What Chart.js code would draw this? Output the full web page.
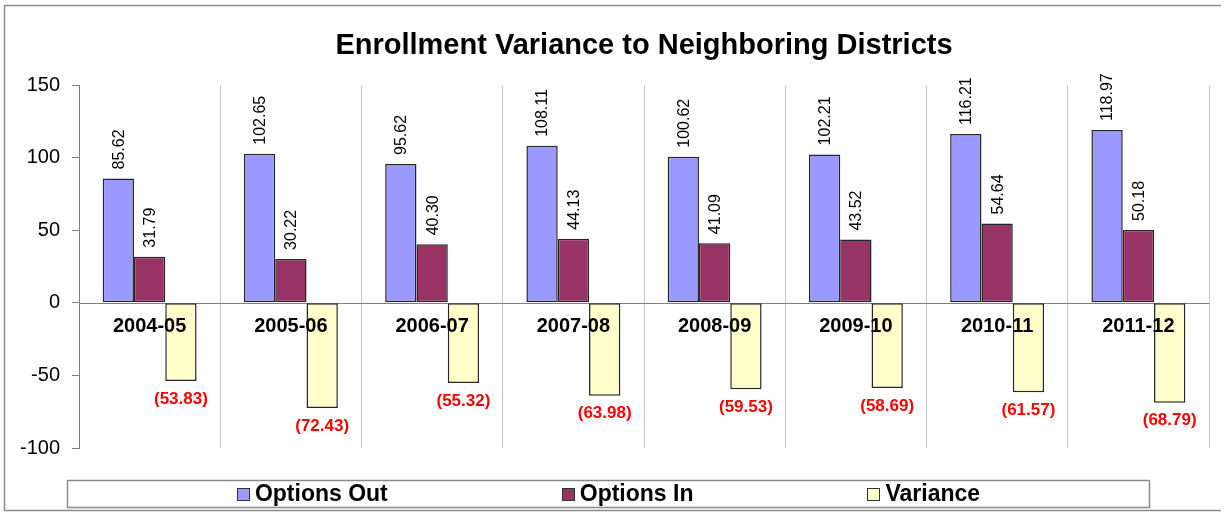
<!DOCTYPE html>
<html>
<head>
<meta charset="utf-8">
<script src="https://cdn.jsdelivr.net/npm/chart.js@4.4.0/dist/chart.umd.min.js"></script>
<style>
html,body{margin:0;padding:0;background:#fff;}
#wrap{width:1225px;height:514px;position:relative;}
canvas{display:block;}
</style>
</head>
<body>
<div id="wrap"><canvas id="c" width="1225" height="514"></canvas></div>
<script>
const categories = ['2004-05','2005-06','2006-07','2007-08','2008-09','2009-10','2010-11','2011-12'];
const optionsOut = [85.62, 102.65, 95.62, 108.11, 100.62, 102.21, 116.21, 118.97];
const optionsIn  = [31.79, 30.22, 40.30, 44.13, 41.09, 43.52, 54.64, 50.18];
const variance   = [-53.83, -72.43, -55.32, -63.98, -59.53, -58.69, -61.57, -68.79];
const yTickValues = [150, 100, 50, 0, -50, -100];
const titleText = 'Enrollment Variance to Neighboring Districts';

const FONT = "'Liberation Sans', Arial, Helvetica, sans-serif";
Chart.defaults.font.family = FONT;

const fmt = v => v < 0 ? '(' + Math.abs(v).toFixed(2) + ')' : v.toFixed(2);

const framePlugin = {
  id: 'frame',
  beforeDraw(chart) {
    const ctx = chart.ctx;
    ctx.save();
    ctx.fillStyle = '#fff';
    ctx.fillRect(0, 0, chart.width, chart.height);
    ctx.restore();
  },
  afterDraw(chart) {
    const ctx = chart.ctx;
    ctx.save();
    ctx.strokeStyle = '#8a8a8a';
    ctx.lineWidth = 1.5;
    ctx.beginPath();
    ctx.moveTo(1221, 5.5);
    ctx.lineTo(4.5, 5.5);
    ctx.lineTo(4.5, 510.5);
    ctx.lineTo(1221, 510.5);
    ctx.stroke();
    ctx.restore();
  }
};

const zeroLinePlugin = {
  id: 'zeroLine',
  beforeDatasetsDraw(chart) {
    const {ctx, chartArea, scales} = chart;
    const y0 = Math.round(scales.y.getPixelForValue(0)) + 0.5;
    ctx.save();
    ctx.strokeStyle = '#808080';
    ctx.lineWidth = 1;
    ctx.beginPath();
    ctx.moveTo(chartArea.left, y0);
    ctx.lineTo(chartArea.right, y0);
    ctx.stroke();
    ctx.restore();
  }
};

const labelPlugin = {
  id: 'valueLabels',
  afterDatasetsDraw(chart) {
    const {ctx, scales} = chart;
    const y0 = scales.y.getPixelForValue(0);
    ctx.save();
    chart.data.datasets.forEach((ds, di) => {
      const meta = chart.getDatasetMeta(di);
      meta.data.forEach((bar, i) => {
        const v = ds.data[i];
        if (v >= 0) {
          ctx.save();
          ctx.translate(bar.x + 1, bar.y - 9);
          ctx.rotate(-Math.PI / 2);
          ctx.font = '16px ' + FONT;
          ctx.fillStyle = '#000';
          ctx.textAlign = 'left';
          ctx.textBaseline = 'middle';
          ctx.fillText(fmt(v), 0, 0);
          ctx.restore();
        } else {
          ctx.font = 'bold 17px ' + FONT;
          ctx.fillStyle = '#ff0000';
          ctx.textAlign = 'center';
          ctx.textBaseline = 'middle';
          ctx.fillText(fmt(v), bar.x, bar.y + 18);
        }
      });
    });
    ctx.font = 'bold 20px ' + FONT;
    ctx.fillStyle = '#000';
    ctx.textAlign = 'center';
    ctx.textBaseline = 'middle';
    chart.data.labels.forEach((lab, i) => {
      ctx.fillText(lab, scales.x.getPixelForValue(i), y0 + 24);
    });
    ctx.restore();
  }
};

const legendPlugin = {
  id: 'boxLegend',
  afterDraw(chart) {
    const ctx = chart.ctx;
    const left = 67.5, right = 1149.5, top = 480.5, bottom = 507.5;
    ctx.save();
    ctx.strokeStyle = '#8a8a8a';
    ctx.lineWidth = 1.5;
    ctx.strokeRect(left, top, right - left, bottom - top);
    ctx.font = 'bold 23px ' + FONT;
    const box = 12, gapBox = 6, gapItem = 174;
    const items = chart.data.datasets.map(ds => ({
      text: ds.label, color: ds.backgroundColor, w: box + gapBox + ctx.measureText(ds.label).width
    }));
    const total = items.reduce((s, it) => s + it.w, 0) + gapItem * (items.length - 1);
    let x = (left + right) / 2 - total / 2;
    const cy = (top + bottom) / 2;
    items.forEach(it => {
      ctx.fillStyle = it.color;
      ctx.fillRect(Math.round(x) + 0.5, Math.round(cy - box / 2) + 0.5, box, box);
      ctx.strokeStyle = '#333';
      ctx.lineWidth = 1;
      ctx.strokeRect(Math.round(x) + 0.5, Math.round(cy - box / 2) + 0.5, box, box);
      ctx.fillStyle = '#000';
      ctx.textAlign = 'left';
      ctx.textBaseline = 'middle';
      ctx.fillText(it.text, x + box + gapBox, cy + 1);
      x += it.w + gapItem;
    });
    ctx.restore();
  }
};

new Chart(document.getElementById('c'), {
  type: 'bar',
  data: {
    labels: categories,
    datasets: [
      { label: 'Options Out', data: optionsOut, backgroundColor: '#9999ff' },
      { label: 'Options In', data: optionsIn, backgroundColor: '#993366' },
      { label: 'Variance', data: variance, backgroundColor: '#ffffcc' }
    ]
  },
  options: {
    responsive: false,
    animation: false,
    devicePixelRatio: 1,
    layout: { padding: { left: 0, right: 16, top: 0, bottom: 66 } },
    datasets: {
      bar: {
        categoryPercentage: 0.665,
        barPercentage: 1.0,
        borderColor: '#262626',
        borderWidth: 1.5,
        borderSkipped: false
      }
    },
    plugins: {
      legend: { display: false },
      tooltip: { enabled: false },
      title: {
        display: true,
        text: titleText,
        fullSize: false,
        color: '#000',
        font: { size: 29, weight: 'bold', family: FONT },
        padding: { top: 29, bottom: 21.2 }
      }
    },
    scales: {
      x: {
        grid: { color: '#c8c8c8', lineWidth: 1, offset: true, drawTicks: false },
        border: { display: false },
        ticks: { display: false }
      },
      y: {
        min: -100,
        max: 150,
        afterFit(scale) { scale.width = 79; },
        afterBuildTicks(scale) { scale.ticks = yTickValues.map(v => ({ value: v })); },
        grid: { drawOnChartArea: false, drawTicks: true, tickLength: 7, color: '#808080' },
        border: { display: true, color: '#808080', width: 1 },
        ticks: { color: '#000', font: { size: 20, family: FONT }, padding: 12 }
      }
    }
  },
  plugins: [framePlugin, zeroLinePlugin, labelPlugin, legendPlugin]
});
</script>
</body>
</html>
